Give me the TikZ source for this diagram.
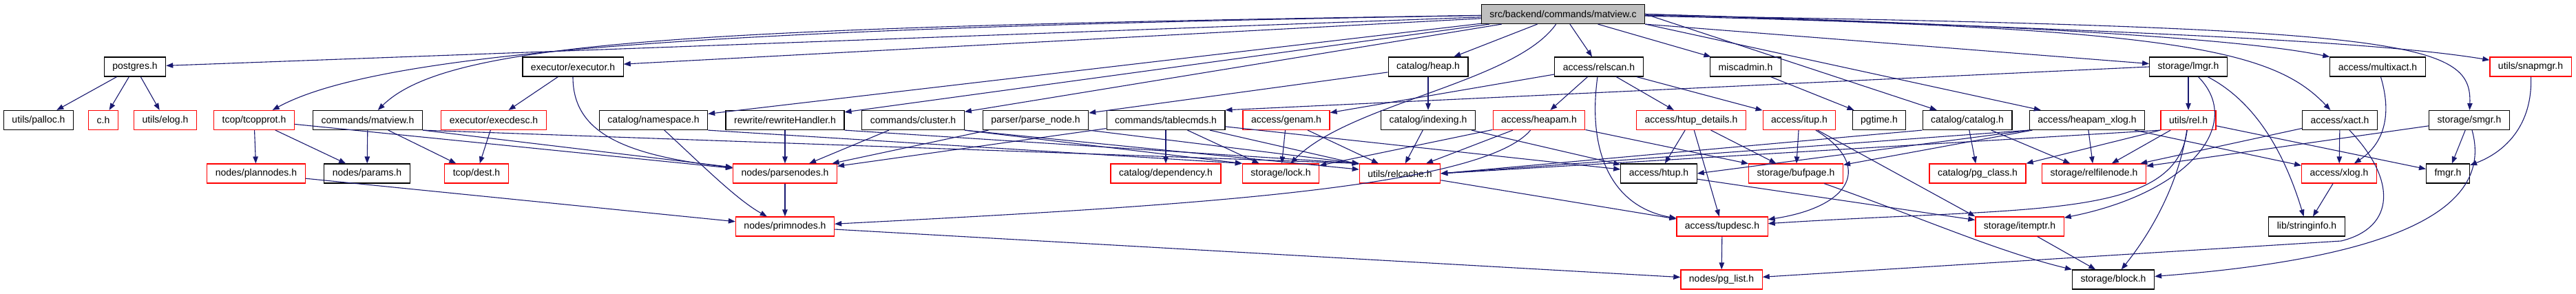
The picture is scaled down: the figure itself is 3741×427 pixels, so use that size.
\documentclass[tikz,border=0pt]{standalone}
\usepackage{fontspec}
\setmainfont{Liberation Sans}
\usetikzlibrary{arrows.meta}
\definecolor{edgeblue}{HTML}{191970}
\definecolor{rootgray}{HTML}{BFBFBF}
\definecolor{hdrred}{HTML}{FF0000}
\tikzset{
  hdr/.style={rectangle,draw=black,fill=white,line width=1.2pt,minimum height=28pt,
    inner xsep=12pt,inner ysep=0pt,font=\fontsize{14}{16}\selectfont},
  redhdr/.style={draw=hdrred},
  roothdr/.style={fill=rootgray},
  dep/.style={draw=edgeblue,line width=1.1pt,-{Triangle[length=10pt,width=7.5pt]}}
}
\begin{document}
\begin{tikzpicture}[x=1pt,y=1pt]
        \useasboundingbox (0,0) rectangle (3741,-427);
        \begin{scope}[every node/.style={hdr}]
        % top
        \node[roothdr] (root) at (2270,-20.5) {src/backend/commands/matview.c};
        % row 1
        \node (postgres) at (196,-97) {postgres.h};
        \node (executor) at (832,-97) {executor/executor.h};
        \node (heap) at (2074,-97) {catalog/heap.h};
        \node (relscan) at (2322,-97) {access/relscan.h};
        \node (miscadmin) at (2535,-97) {miscadmin.h};
        \node (lmgr) at (3178,-97) {storage/lmgr.h};
        \node (multixact) at (3453,-97) {access/multixact.h};
        \node[redhdr] (snapmgr) at (3675,-97) {utils/snapmgr.h};
        % row 2
        \node (palloc) at (56,-174.5) {utils/palloc.h};
        \node[redhdr] (ch) at (150,-174.5) {c.h};
        \node[redhdr] (elog) at (240,-174.5) {utils/elog.h};
        \node[redhdr] (tcopprot) at (369,-174.5) {tcop/tcopprot.h};
        \node (matviewh) at (534,-174.5) {commands/matview.h};
        \node[redhdr] (execdesc) at (717,-174.5) {executor/execdesc.h};
        \node (namespace) at (949,-174.5) {catalog/namespace.h};
        \node (rewrite) at (1140,-174.5) {rewrite/rewriteHandler.h};
        \node (cluster) at (1326,-174.5) {commands/cluster.h};
        \node (parsenode) at (1504,-174.5) {parser/parse\_node.h};
        \node (tablecmds) at (1693,-174.5) {commands/tablecmds.h};
        \node[redhdr] (genam) at (1868,-174.5) {access/genam.h};
        \node (indexing) at (2074,-174.5) {catalog/indexing.h};
        \node[redhdr] (heapam) at (2235,-174.5) {access/heapam.h};
        \node[redhdr] (htupdetails) at (2456,-174.5) {access/htup\_details.h};
        \node[redhdr] (itup) at (2613,-174.5) {access/itup.h};
        \node (pgtime) at (2729,-174.5) {pgtime.h};
        \node (catalog) at (2857,-174.5) {catalog/catalog.h};
        \node (heapamxlog) at (3031,-174.5) {access/heapam\_xlog.h};
        \node[redhdr] (rel) at (3178,-174.5) {utils/rel.h};
        \node (xact) at (3398,-174.5) {access/xact.h};
        \node (smgr) at (3586,-174.5) {storage/smgr.h};
        % row 3
        \node[redhdr] (plannodes) at (372,-252) {nodes/plannodes.h};
        \node (params) at (533,-252) {nodes/params.h};
        \node[redhdr] (dest) at (692,-252) {tcop/dest.h};
        \node[redhdr] (parsenodes) at (1140,-252) {nodes/parsenodes.h};
        \node[redhdr] (dependency) at (1693,-252) {catalog/dependency.h};
        \node[redhdr] (lock) at (1860,-252) {storage/lock.h};
        \node[redhdr] (relcache) at (2033,-252) {utils/relcache.h};
        \node (htup) at (2409,-252) {access/htup.h};
        \node[redhdr] (bufpage) at (2608,-252) {storage/bufpage.h};
        \node[redhdr] (pgclass) at (2872,-252) {catalog/pg\_class.h};
        \node[redhdr] (relfilenode) at (3041,-252) {storage/relfilenode.h};
        \node[redhdr] (xlog) at (3397,-252) {access/xlog.h};
        \node (fmgr) at (3555,-252) {fmgr.h};
        % row 4
        \node[redhdr] (primnodes) at (1140,-329) {nodes/primnodes.h};
        \node[redhdr] (tupdesc) at (2501,-329) {access/tupdesc.h};
        \node[redhdr] (itemptr) at (2933,-329) {storage/itemptr.h};
        \node (stringinfo) at (3350,-329) {lib/stringinfo.h};
        % row 5
        \node[redhdr] (pglist) at (2500,-406) {nodes/pg\_list.h};
        \node (block) at (3069,-406) {storage/block.h};
        \end{scope}
        \begin{scope}[every edge/.style={dep}]
        \path (root) edge (postgres)
              (root) edge (executor)
              (root) edge (namespace)
              (root) edge (rewrite)
              (root) edge (cluster)
              (root) edge (heap)
              (root) edge (relscan)
              (root) edge (miscadmin)
              (root.east) edge (catalog)
              (root.south east) edge (heapamxlog)
              (root.south east) edge (lmgr)
              (postgres) edge (palloc)
              (postgres) edge (ch)
              (postgres) edge (elog)
              (tcopprot) edge (plannodes)
              (tcopprot) edge (params)
              (tcopprot) edge (parsenodes)
              (matviewh) edge (params)
              (matviewh) edge (dest)
              (matviewh.south east) edge (parsenodes)
              (matviewh.south east) edge (relcache.north west)
              (executor) edge (execdesc)
              (execdesc) edge (dest)
              (namespace.south east) edge (lock.north west)
              (rewrite) edge (parsenodes)
              (rewrite.south east) edge (relcache.north west)
              (cluster) edge (parsenodes)
              (cluster.south east) edge (lock.north west)
              (cluster.south east) edge (relcache)
              (parsenode) edge (parsenodes)
              (parsenode.south east) edge (relcache.north west)
              (tablecmds) edge (parsenodes)
              (tablecmds) edge (dependency)
              (tablecmds) edge (lock)
              (tablecmds) edge (relcache)
              (tablecmds) edge (htup)
              (heap) edge (parsenode)
              (heap) edge (indexing)
              (genam) edge (lock)
              (genam) edge (relcache)
              (indexing) edge (relcache)
              (indexing) edge (htup)
              (relscan) edge (genam)
              (relscan) edge (heapam)
              (relscan) edge (htupdetails)
              (relscan) edge (itup)
              (heapam) edge (lock)
              (heapam) edge (relcache)
              (heapam) edge (bufpage)
              (htupdetails) edge (htup)
              (htupdetails) edge (tupdesc)
              (htupdetails) edge (bufpage)
              (itup) edge (bufpage)
              (itup) edge (itemptr.north west)
              (miscadmin) edge (pgtime)
              (catalog) edge (pgclass)
              (catalog) edge (relfilenode)
              (catalog.south west) edge (relcache.east)
              (heapamxlog.south west) edge (htup.east)
              (heapamxlog) edge (bufpage)
              (heapamxlog) edge (relfilenode)
              (heapamxlog.south west) edge (relcache.east)
              (heapamxlog) edge (xlog)
              (lmgr.west) edge (tablecmds.north east)
              (lmgr) edge (rel)
              (rel) edge (fmgr)
              (rel.south west) edge (pgclass.north east)
              (rel) edge (relfilenode)
              (rel.south west) edge (relcache.east)
              (xact) edge (xlog)
              (xact) edge (relfilenode)
              (smgr) edge (fmgr)
              (smgr) edge (relfilenode)
              (xlog) edge (stringinfo)
              (parsenodes) edge (primnodes)
              (plannodes) edge (primnodes)
              (primnodes) edge (pglist)
              (relcache) edge (tupdesc)
              (htup) edge (itemptr)
              (tupdesc) edge (pglist)
              (itemptr) edge (block);
        \end{scope}
        % curved ones
        \draw[dep] (root) .. controls (1100,-40) and (560,-70) .. (tcopprot);
        \draw[dep] (root) .. controls (1000,-40) and (650,-60) .. (matviewh);
        \draw[dep] (root) .. controls (2200,-120) and (1960,-150) .. (lock);
        \draw[dep] (root.east) .. controls (2900,-35) and (3250,-55) .. (multixact);
        \draw[dep] (root.east) .. controls (3100,-45) and (3450,-60) .. (snapmgr);
        \draw[dep] (root) .. controls (3150,-40) and (3300,-70) .. (xact);
        \draw[dep] (root) .. controls (3500,-40) and (3590,-60) .. (smgr);
        \draw[dep] (executor) .. controls (832,-190) and (900,-225) .. (parsenodes);
        \draw[dep] (namespace) .. controls (1020,-240) and (1070,-290) .. (primnodes);
        \draw[dep] (heapam) .. controls (2150,-275) and (1700,-300) .. (primnodes);
        \draw[dep] (relscan) .. controls (2305,-220) and (2340,-300) .. (tupdesc);
        \draw[dep] (itup) .. controls (2720,-240) and (2690,-300) .. (tupdesc);
        \draw[dep] (rel) .. controls (3160,-320) and (2950,-300) .. (tupdesc);
        \draw[dep] (rel) .. controls (3165,-260) and (3130,-330) .. (block);
        \draw[dep] (bufpage) .. controls (2800,-320) and (2900,-365) .. (block);
        \draw[dep] (lmgr) .. controls (3260,-180) and (3180,-280) .. (itemptr);
        \draw[dep] (lmgr) .. controls (3280,-150) and (3320,-230) .. (stringinfo);
        \draw[dep] (xact) .. controls (3480,-260) and (3480,-330) .. (3400,-350) -- (pglist);
        \draw[dep] (smgr) .. controls (3615,-280) and (3540,-370) .. (block);
        \draw[dep] (multixact) .. controls (3475,-170) and (3460,-210) .. (xlog);
        \draw[dep] (snapmgr) .. controls (3678,-180) and (3640,-220) .. (fmgr);
        \end{tikzpicture}
\end{document}
